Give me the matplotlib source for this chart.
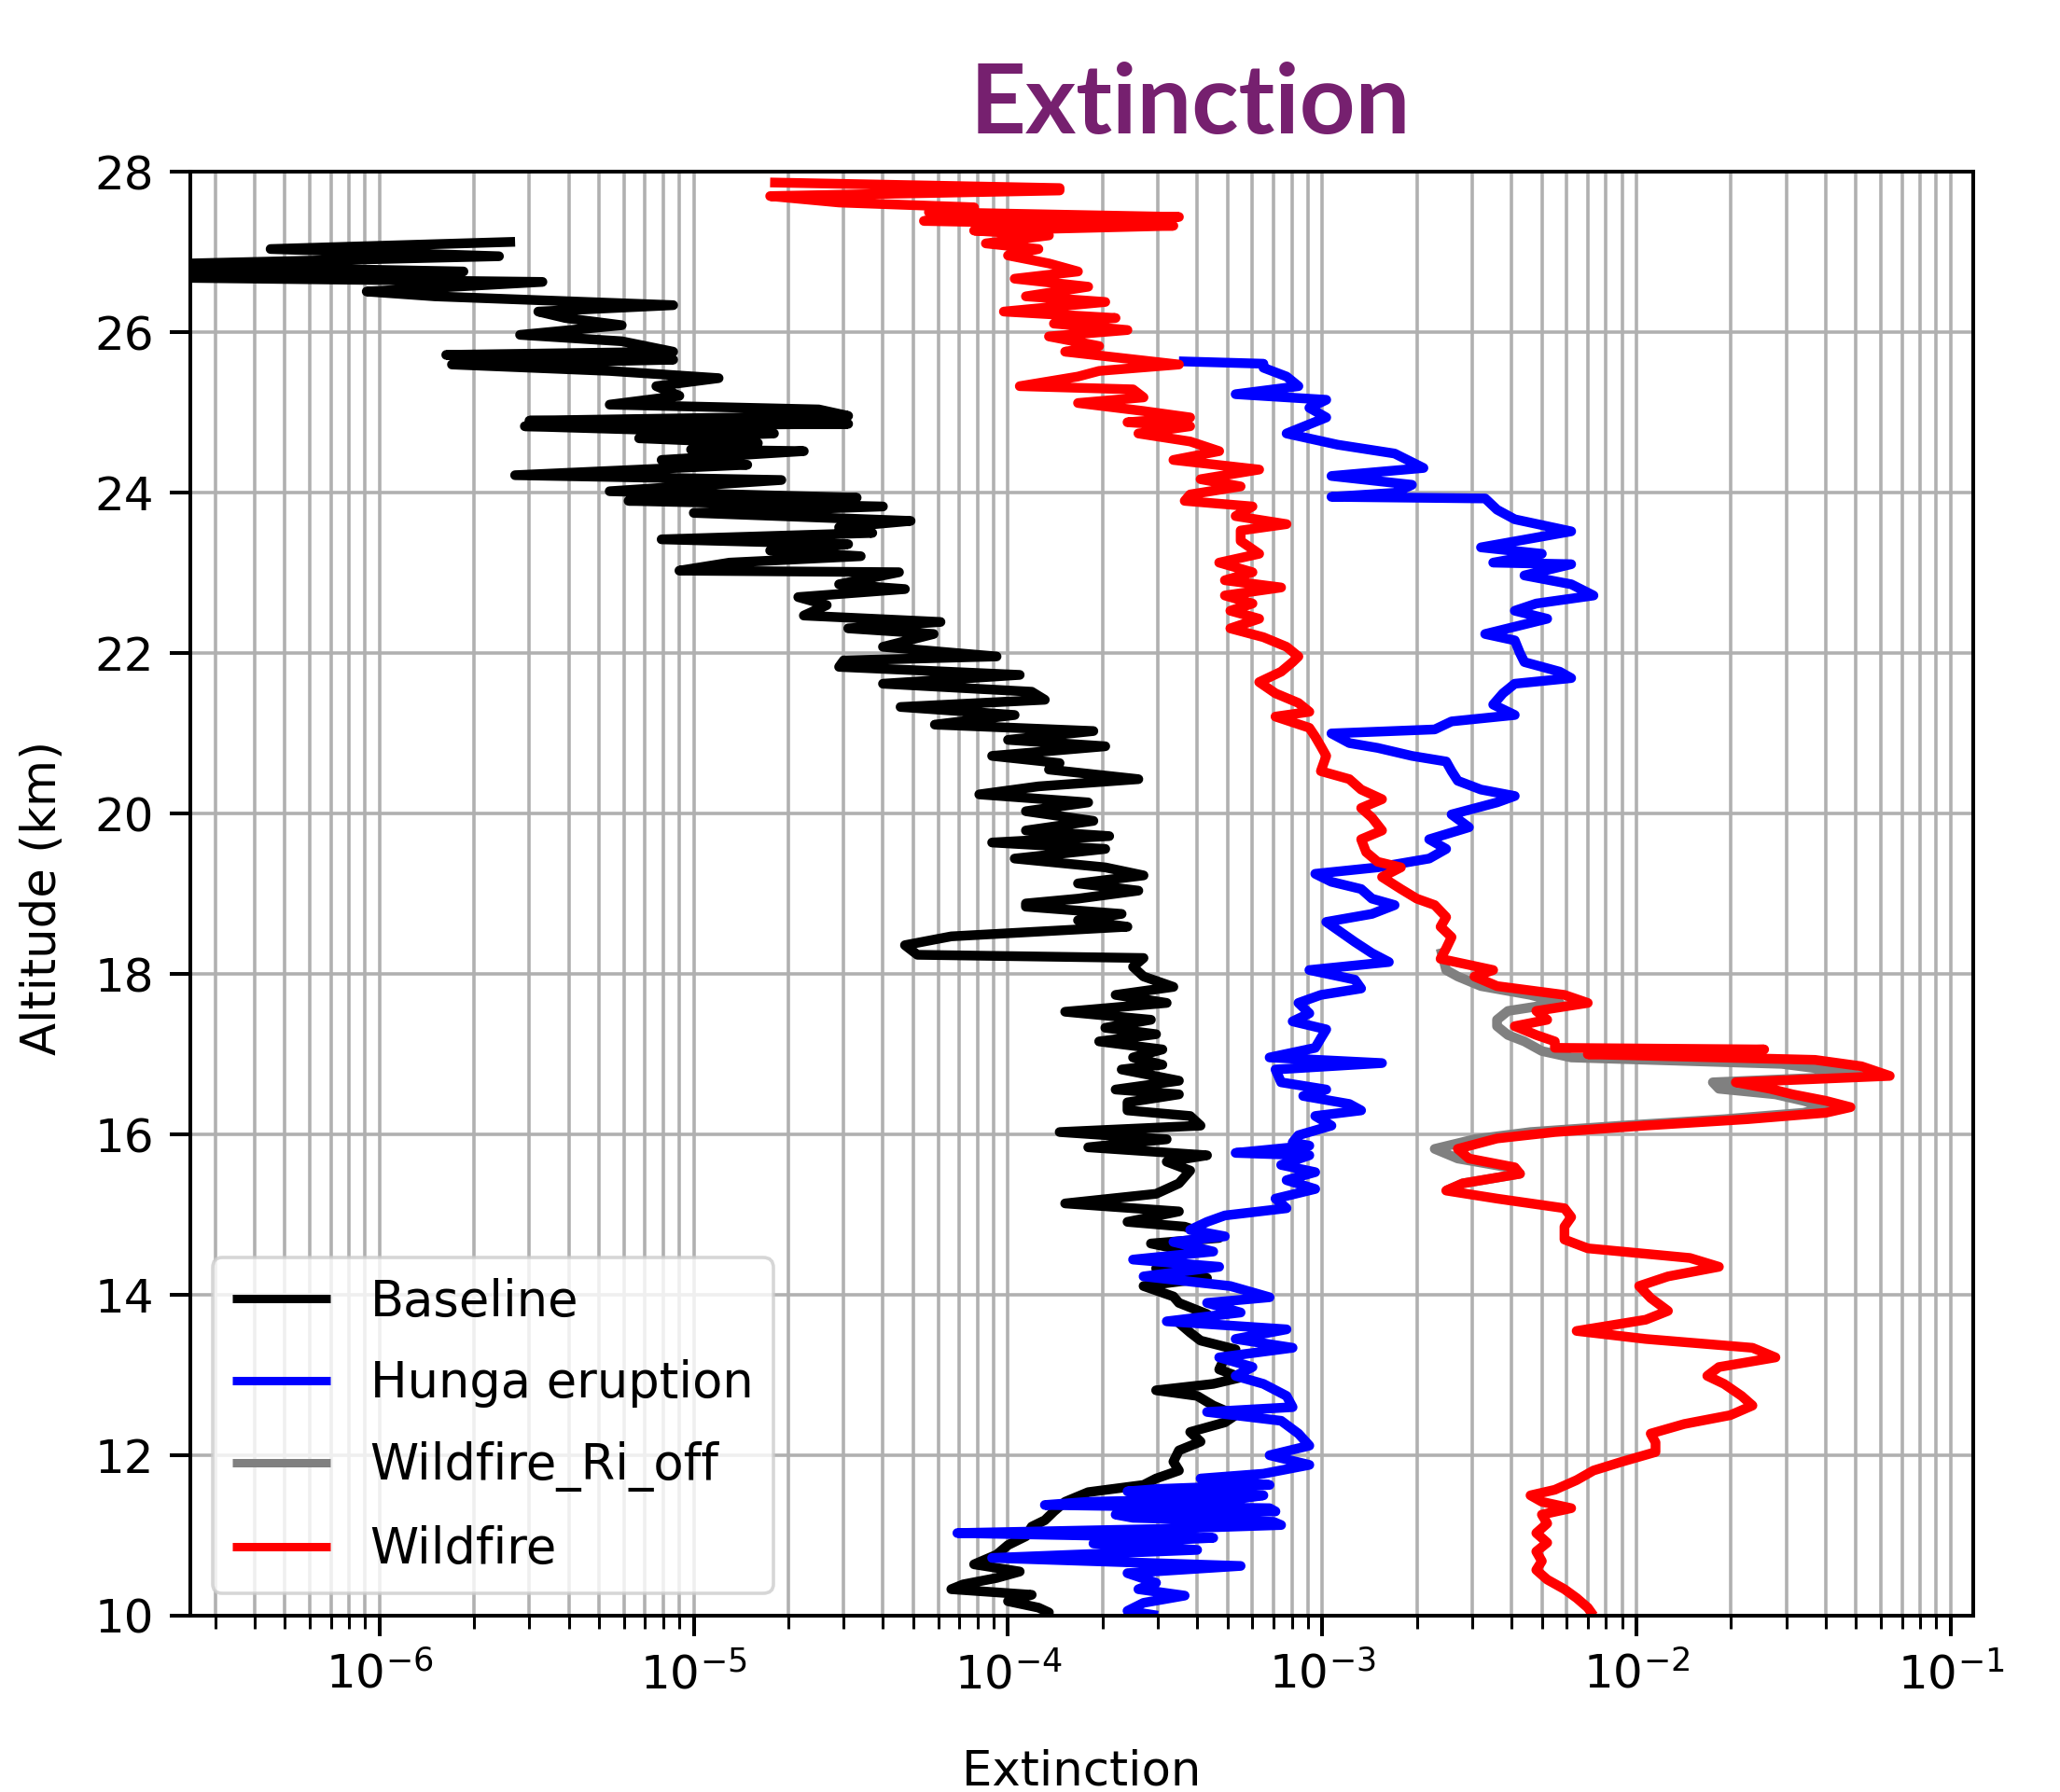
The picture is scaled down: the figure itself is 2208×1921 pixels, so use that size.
import matplotlib
matplotlib.use("Agg")
import matplotlib.pyplot as plt
from matplotlib.ticker import LogLocator, NullFormatter

# ---------------- data ----------------
alt_baseline = [27.13, 27.04, 26.95, 26.84, 26.76, 26.69, 26.63, 26.51, 26.45, 26.34,
                26.26, 26.18, 26.09, 25.97, 25.89, 25.76, 25.72, 25.66, 25.60, 25.52,
                25.43, 25.33, 25.21, 25.10, 25.04, 24.96, 24.90, 24.86, 24.83, 24.74,
                24.68, 24.62, 24.54, 24.52, 24.41, 24.35, 24.22, 24.16, 24.02, 23.94,
                23.90, 23.83, 23.75, 23.65, 23.57, 23.50, 23.42, 23.36, 23.28, 23.21,
                23.13, 23.03, 23.01, 22.86, 22.80, 22.70, 22.60, 22.47, 22.39, 22.31,
                22.24, 22.08, 21.96, 21.91, 21.83, 21.73, 21.62, 21.52, 21.42, 21.33,
                21.23, 21.11, 21.03, 20.92, 20.84, 20.72, 20.63, 20.55, 20.43, 20.34,
                20.24, 20.14, 20.03, 19.91, 19.79, 19.72, 19.64, 19.56, 19.44, 19.33,
                19.23, 19.13, 19.04, 18.94, 18.88, 18.84, 18.75, 18.67, 18.59, 18.47,
                18.36, 18.24, 18.20, 18.09, 17.97, 17.84, 17.74, 17.64, 17.53, 17.43,
                17.33, 17.25, 17.16, 17.06, 16.96, 16.87, 16.81, 16.67, 16.56, 16.50,
                16.40, 16.30, 16.23, 16.11, 16.03, 15.94, 15.84, 15.74, 15.66, 15.55,
                15.39, 15.26, 15.14, 15.04, 14.91, 14.85, 14.71, 14.64, 14.54, 14.42,
                14.33, 14.21, 14.11, 13.98, 13.90, 13.76, 13.65, 13.53, 13.43, 13.32,
                13.22, 13.07, 12.97, 12.89, 12.81, 12.74, 12.62, 12.50, 12.41, 12.29,
                12.17, 12.06, 11.92, 11.81, 11.71, 11.63, 11.54, 11.42, 11.30, 11.19,
                11.11, 10.99, 10.88, 10.76, 10.64, 10.55, 10.47, 10.39, 10.33, 10.26,
                10.18, 10.10, 10.04, 10.00]
ext_baseline = [2.7e-6, 4.5e-7, 2.4e-6, 1.5e-7, 1.85e-6, 1.5e-7, 3.3e-6, 9.1e-7, 1.5e-6, 8.6e-6,
                3.2e-6, 3.9e-6, 5.9e-6, 2.8e-6, 5.9e-6, 8.6e-6, 1.63e-6, 8.6e-6, 1.7e-6, 5.4e-6,
                1.2e-5, 7.6e-6, 9.0e-6, 5.4e-6, 2.5e-5, 3.1e-5, 3.0e-6, 3.1e-5, 2.9e-6, 1.8e-5,
                6.7e-6, 1.6e-5, 9.8e-6, 2.24e-5, 7.9e-6, 1.48e-5, 2.7e-6, 1.9e-5, 5.4e-6, 3.3e-5,
                6.2e-6, 4.0e-5, 1.0e-5, 4.9e-5, 2.9e-5, 3.7e-5, 7.9e-6, 3.1e-5, 1.75e-5, 3.4e-5,
                1.3e-5, 9.0e-6, 4.5e-5, 2.9e-5, 4.7e-5, 2.15e-5, 2.65e-5, 2.24e-5, 6.1e-5, 3.1e-5,
                5.8e-5, 4.0e-5, 9.2e-5, 3.0e-5, 2.9e-5, 1.09e-4, 4.0e-5, 1.19e-4, 1.31e-4, 4.55e-5,
                1.05e-4, 5.85e-5, 1.87e-4, 1.0e-4, 2.04e-4, 8.9e-5, 1.46e-4, 1.35e-4, 2.6e-4, 1.25e-4,
                8.1e-5, 1.8e-4, 1.14e-4, 1.87e-4, 1.14e-4, 2.1e-4, 8.9e-5, 2.04e-4, 1.05e-4, 2.04e-4,
                2.7e-4, 1.67e-4, 2.6e-4, 1.67e-4, 1.14e-4, 1.14e-4, 2.3e-4, 1.67e-4, 2.4e-4, 6.6e-5,
                4.7e-5, 5.15e-5, 2.7e-4, 2.5e-4, 2.7e-4, 3.36e-4, 2.2e-4, 3.2e-4, 1.52e-4, 2.85e-4,
                2.04e-4, 2.96e-4, 1.95e-4, 3.1e-4, 2.5e-4, 3.1e-4, 2.3e-4, 3.5e-4, 2.2e-4, 3.5e-4,
                2.4e-4, 2.4e-4, 3.8e-4, 4.1e-4, 1.46e-4, 3.2e-4, 1.8e-4, 4.3e-4, 3.2e-4, 3.8e-4,
                3.5e-4, 2.96e-4, 1.52e-4, 3.5e-4, 2.4e-4, 3.65e-4, 4.7e-4, 2.85e-4, 3.8e-4, 3.2e-4,
                2.96e-4, 4.3e-4, 2.7e-4, 3.36e-4, 3.5e-4, 4.3e-4, 3.5e-4, 3.8e-4, 4.1e-4, 5.3e-4,
                4.9e-4, 4.7e-4, 5.5e-4, 4.5e-4, 2.96e-4, 4.0e-4, 4.5e-4, 5.3e-4, 4.9e-4, 3.8e-4,
                4.1e-4, 3.5e-4, 3.36e-4, 3.5e-4, 2.96e-4, 2.7e-4, 1.8e-4, 1.52e-4, 1.4e-4, 1.31e-4,
                1.19e-4, 1.14e-4, 1.0e-4, 9.2e-5, 7.8e-5, 1.09e-4, 9.2e-5, 7.2e-5, 6.6e-5, 1.19e-4,
                1.0e-4, 1.25e-4, 1.35e-4, 1.3e-4]

alt_hunga = [25.64, 25.61, 25.56, 25.45, 25.33, 25.23, 25.16, 25.06, 24.94, 24.74,
             24.60, 24.49, 24.31, 24.21, 24.10, 24.00, 23.95, 23.93, 23.79, 23.67,
             23.52, 23.32, 23.24, 23.13, 23.11, 22.97, 22.86, 22.72, 22.62, 22.53,
             22.43, 22.24, 22.16, 22.00, 21.89, 21.77, 21.69, 21.62, 21.50, 21.36,
             21.23, 21.15, 21.05, 21.00, 20.88, 20.82, 20.72, 20.65, 20.53, 20.41,
             20.30, 20.22, 20.14, 19.99, 19.83, 19.68, 19.56, 19.44, 19.33, 19.25,
             19.15, 19.06, 18.94, 18.86, 18.75, 18.65, 18.55, 18.40, 18.26, 18.15,
             18.05, 17.93, 17.82, 17.74, 17.64, 17.51, 17.41, 17.31, 17.20, 17.08,
             16.96, 16.89, 16.81, 16.65, 16.56, 16.48, 16.38, 16.30, 16.23, 16.11,
             15.99, 15.90, 15.86, 15.77, 15.74, 15.62, 15.53, 15.43, 15.32, 15.20,
             15.08, 14.99, 14.91, 14.81, 14.73, 14.66, 14.54, 14.44, 14.35, 14.23,
             14.11, 13.97, 13.90, 13.78, 13.67, 13.57, 13.45, 13.34, 13.22, 13.10,
             12.99, 12.89, 12.74, 12.60, 12.54, 12.43, 12.27, 12.12, 12.00, 11.88,
             11.77, 11.71, 11.63, 11.58, 11.55, 11.50, 11.46, 11.42, 11.38, 11.34,
             11.30, 11.26, 11.22, 11.17, 11.13, 11.08, 11.03, 10.97, 10.90, 10.82,
             10.72, 10.62, 10.53, 10.41, 10.33, 10.25, 10.16, 10.06, 10.00]
ext_hunga = [3.5e-4, 6.5e-4, 6.5e-4, 7.7e-4, 8.4e-4, 5.3e-4, 1.03e-3, 9.1e-4, 1.03e-3, 7.7e-4,
             1.12e-3, 1.7e-3, 2.1e-3, 1.07e-3, 1.93e-3, 1.7e-3, 1.07e-3, 3.3e-3, 3.6e-3, 4.1e-3,
             6.2e-3, 3.2e-3, 5.0e-3, 3.5e-3, 6.2e-3, 4.4e-3, 6.2e-3, 7.3e-3, 4.8e-3, 4.1e-3,
             5.2e-3, 3.3e-3, 4.1e-3, 4.26e-3, 4.4e-3, 5.7e-3, 6.2e-3, 4.1e-3, 3.76e-3, 3.5e-3,
             4.1e-3, 2.58e-3, 2.28e-3, 1.07e-3, 1.22e-3, 1.5e-3, 1.93e-3, 2.48e-3, 2.58e-3, 2.7e-3,
             3.2e-3, 4.1e-3, 3.6e-3, 2.58e-3, 2.93e-3, 2.19e-3, 2.48e-3, 2.19e-3, 1.5e-3, 9.5e-4,
             1.07e-3, 1.33e-3, 1.44e-3, 1.7e-3, 1.44e-3, 1.03e-3, 1.12e-3, 1.27e-3, 1.44e-3, 1.63e-3,
             9.1e-4, 1.27e-3, 1.33e-3, 9.9e-4, 8.4e-4, 9.1e-4, 8.05e-4, 1.03e-3, 9.9e-4, 9.5e-4,
             6.8e-4, 1.55e-3, 7.1e-4, 7.4e-4, 1.03e-3, 8.7e-4, 1.22e-3, 1.33e-3, 9.5e-4, 1.07e-3,
             8.4e-4, 8.05e-4, 9.1e-4, 5.3e-4, 9.1e-4, 7.4e-4, 9.5e-4, 7.7e-4, 9.5e-4, 7.1e-4,
             7.7e-4, 4.9e-4, 4.3e-4, 3.8e-4, 4.9e-4, 3.36e-4, 4.5e-4, 2.5e-4, 4.7e-4, 2.7e-4,
             5.1e-4, 6.8e-4, 4.3e-4, 5.5e-4, 3.2e-4, 7.7e-4, 5.3e-4, 8.05e-4, 4.7e-4, 6.0e-4,
             5.3e-4, 6.5e-4, 7.7e-4, 8.05e-4, 4.3e-4, 7.4e-4, 8.4e-4, 9.1e-4, 6.8e-4, 9.1e-4,
             6.5e-4, 4.1e-4, 6.8e-4, 3.0e-4, 2.4e-4, 6.5e-4, 5.5e-4, 1.8e-4, 1.31e-4, 6.8e-4,
             7.1e-4, 2.2e-4, 2.5e-4, 7.0e-4, 7.4e-4, 3.0e-4, 6.9e-5, 4.5e-4, 1.87e-4, 4.0e-4,
             8.9e-5, 5.5e-4, 2.4e-4, 2.96e-4, 2.6e-4, 3.65e-4, 2.7e-4, 2.4e-4, 3.0e-4]

alt_ri_off = [18.32, 18.05, 17.97, 17.85, 17.74, 17.64, 17.54, 17.43, 17.35, 17.24,
              17.16, 17.04, 16.96, 16.88, 16.81, 16.73, 16.65, 16.57, 16.50, 16.42,
              16.34, 16.27, 16.19, 16.11, 16.03, 15.94, 15.82, 15.70, 15.59, 15.51,
              15.39, 15.30]
ext_ri_off = [2.38e-3, 2.48e-3, 2.7e-3, 3.2e-3, 4.6e-3, 5.7e-3, 3.9e-3, 3.6e-3, 3.6e-3, 3.9e-3,
              4.4e-3, 5.0e-3, 6.2e-3, 2.9e-2, 4.0e-2, 5.2e-2, 1.75e-2, 1.83e-2, 2.77e-2, 3.4e-2,
              4.0e-2, 3.4e-2, 1.9e-2, 9.0e-3, 4.6e-3, 3.05e-3, 2.28e-3, 2.7e-3, 3.9e-3, 4.26e-3,
              2.8e-3, 2.48e-3]

alt_wildfire = [27.87, 27.80, 27.77, 27.70, 27.62, 27.56, 27.50, 27.44, 27.39, 27.33,
                27.27, 27.21, 27.11, 27.04, 26.96, 26.86, 26.76, 26.67, 26.57, 26.45,
                26.38, 26.26, 26.18, 26.11, 26.03, 25.95, 25.83, 25.76, 25.68, 25.60,
                25.52, 25.45, 25.33, 25.29, 25.19, 25.12, 25.02, 24.94, 24.88, 24.83,
                24.74, 24.64, 24.52, 24.41, 24.29, 24.17, 24.08, 23.98, 23.90, 23.83,
                23.71, 23.61, 23.53, 23.40, 23.24, 23.13, 23.01, 22.91, 22.82, 22.72,
                22.62, 22.53, 22.43, 22.31, 22.20, 22.08, 21.96, 21.89, 21.77, 21.64,
                21.50, 21.38, 21.27, 21.21, 21.07, 20.96, 20.84, 20.72, 20.53, 20.43,
                20.30, 20.18, 20.07, 19.95, 19.79, 19.68, 19.52, 19.40, 19.33, 19.21,
                19.06, 18.94, 18.86, 18.71, 18.59, 18.46, 18.32, 18.19, 18.05, 17.97,
                17.85, 17.74, 17.64, 17.54, 17.43, 17.35, 17.24, 17.16, 17.08, 17.06,
                17.00, 16.93, 16.85, 16.73, 16.65, 16.57, 16.50, 16.42, 16.34, 16.27,
                16.19, 16.11, 16.03, 15.95, 15.82, 15.70, 15.59, 15.51, 15.39, 15.30,
                15.20, 15.08, 14.97, 14.85, 14.69, 14.58, 14.46, 14.35, 14.23, 14.11,
                13.96, 13.80, 13.69, 13.55, 13.45, 13.34, 13.22, 13.10, 12.99, 12.89,
                12.74, 12.62, 12.50, 12.39, 12.27, 12.16, 12.04, 11.92, 11.81, 11.69,
                11.57, 11.50, 11.42, 11.34, 11.26, 11.15, 11.03, 10.91, 10.80, 10.68,
                10.57, 10.45, 10.33, 10.22, 10.10, 10.00]
ext_wildfire = [1.75e-5, 1.46e-4, 1.46e-4, 1.75e-5, 2.9e-5, 7.8e-5, 5.6e-5, 3.5e-4, 5.4e-5, 3.36e-4,
                7.8e-5, 1.35e-4, 8.5e-5, 1.25e-4, 1.0e-4, 1.35e-4, 1.67e-4, 1.05e-4, 1.8e-4, 1.14e-4,
                2.04e-4, 9.7e-5, 2.2e-4, 1.4e-4, 2.4e-4, 1.35e-4, 1.95e-4, 1.52e-4, 2.3e-4, 3.5e-4,
                1.95e-4, 1.67e-4, 1.09e-4, 2.5e-4, 2.7e-4, 1.67e-4, 2.7e-4, 3.8e-4, 2.4e-4, 3.8e-4,
                2.6e-4, 3.8e-4, 4.7e-4, 3.36e-4, 6.3e-4, 4.1e-4, 5.5e-4, 3.8e-4, 3.65e-4, 6.0e-4,
                5.3e-4, 7.7e-4, 5.5e-4, 5.5e-4, 6.3e-4, 4.7e-4, 6.0e-4, 4.9e-4, 7.4e-4, 4.9e-4,
                6.0e-4, 5.1e-4, 6.3e-4, 5.1e-4, 6.5e-4, 7.7e-4, 8.4e-4, 8.05e-4, 7.4e-4, 6.3e-4,
                7.1e-4, 8.4e-4, 9.1e-4, 7.1e-4, 9.1e-4, 9.5e-4, 9.9e-4, 1.03e-3, 9.9e-4, 1.22e-3,
                1.33e-3, 1.55e-3, 1.33e-3, 1.44e-3, 1.55e-3, 1.33e-3, 1.38e-3, 1.5e-3, 1.78e-3, 1.55e-3,
                1.78e-3, 2.0e-3, 2.28e-3, 2.48e-3, 2.38e-3, 2.58e-3, 2.48e-3, 2.38e-3, 3.5e-3, 3.05e-3,
                3.6e-3, 5.9e-3, 7.0e-3, 4.8e-3, 5.2e-3, 4.1e-3, 4.8e-3, 5.5e-3, 5.5e-3, 2.55e-2,
                7.0e-3, 3.7e-2, 5.2e-2, 6.4e-2, 2.07e-2, 2.66e-2, 3.14e-2, 4.0e-2, 4.8e-2, 4.0e-2,
                2.25e-2, 1.06e-2, 5.5e-3, 3.6e-3, 2.7e-3, 2.93e-3, 4.1e-3, 4.26e-3, 2.8e-3, 2.48e-3,
                3.6e-3, 5.9e-3, 6.2e-3, 5.9e-3, 5.9e-3, 7.0e-3, 1.48e-2, 1.83e-2, 1.26e-2, 1.02e-2,
                1.11e-2, 1.26e-2, 1.07e-2, 6.45e-3, 1.07e-2, 2.34e-2, 2.77e-2, 1.83e-2, 1.68e-2, 1.9e-2,
                2.16e-2, 2.34e-2, 1.99e-2, 1.42e-2, 1.11e-2, 1.15e-2, 1.15e-2, 9.0e-3, 7.3e-3, 6.45e-3,
                5.5e-3, 4.6e-3, 5.0e-3, 6.2e-3, 5.0e-3, 5.2e-3, 4.8e-3, 5.2e-3, 4.8e-3, 5.0e-3,
                4.8e-3, 5.2e-3, 5.9e-3, 6.45e-3, 7.0e-3, 7.3e-3]

labels = ["Baseline", "Hunga eruption", "Wildfire_Ri_off", "Wildfire"]
colors = ["black", "blue", "gray", "red"]
y_ticks = [10, 12, 14, 16, 18, 20, 22, 24, 26, 28]

# ---------------- figure ----------------
plt.rcParams['font.family'] = ['DejaVu Sans']
fig = plt.figure(figsize=(22.08, 19.21), dpi=100)
ax = fig.add_axes([0.0924, 0.0984, 0.8655, 0.8056])

LW = 7.5
series = [(ext_baseline, alt_baseline), (ext_hunga, alt_hunga),
          (ext_ri_off, alt_ri_off), (ext_wildfire, alt_wildfire)]
for (x, y), lab, col in zip(series, labels, colors):
    ax.plot(x, y, color=col, lw=LW, label=lab, solid_joinstyle='round',
            solid_capstyle='butt')

ax.set_xscale('log')
ax.set_xlim(2.5e-7, 0.118)
ax.set_ylim(10, 28)
ax.set_yticks(y_ticks)
ax.xaxis.set_major_locator(LogLocator(base=10, numticks=20))
ax.xaxis.set_minor_locator(LogLocator(base=10, subs=range(2, 10), numticks=100))
ax.xaxis.set_minor_formatter(NullFormatter())

ax.grid(True, which='major', color='#b0b0b0', lw=2.6)
ax.grid(True, which='minor', axis='x', color='#b0b0b0', lw=2.6)
ax.set_axisbelow(True)

ax.tick_params(which='major', labelsize=36, length=16, width=2.9, pad=12)
ax.tick_params(which='minor', length=10, width=2.2)
for sp in ax.spines.values():
    sp.set_linewidth(2.9)

leg = ax.legend(loc='lower left', fontsize=38, framealpha=0.8, labelspacing=0.68,
                handlelength=2.0, borderaxespad=0.45)
leg.get_frame().set_linewidth(2.6)
for h in leg.get_lines():
    h.set_linewidth(6.5)

fig.text(0.0208, 0.499, "Altitude (km)", rotation=90, fontsize=37,
         ha='center', va='center')
fig.text(0.525, 0.004, "Extinction", fontsize=37, ha='center', va='baseline')
fig.text(0.578, 0.941, "Extinction", fontsize=75, fontweight='bold',
         family=['Lato', 'DejaVu Sans'], color='#76206F', ha='center', va='center')

fig.savefig("out.png", dpi=100)
